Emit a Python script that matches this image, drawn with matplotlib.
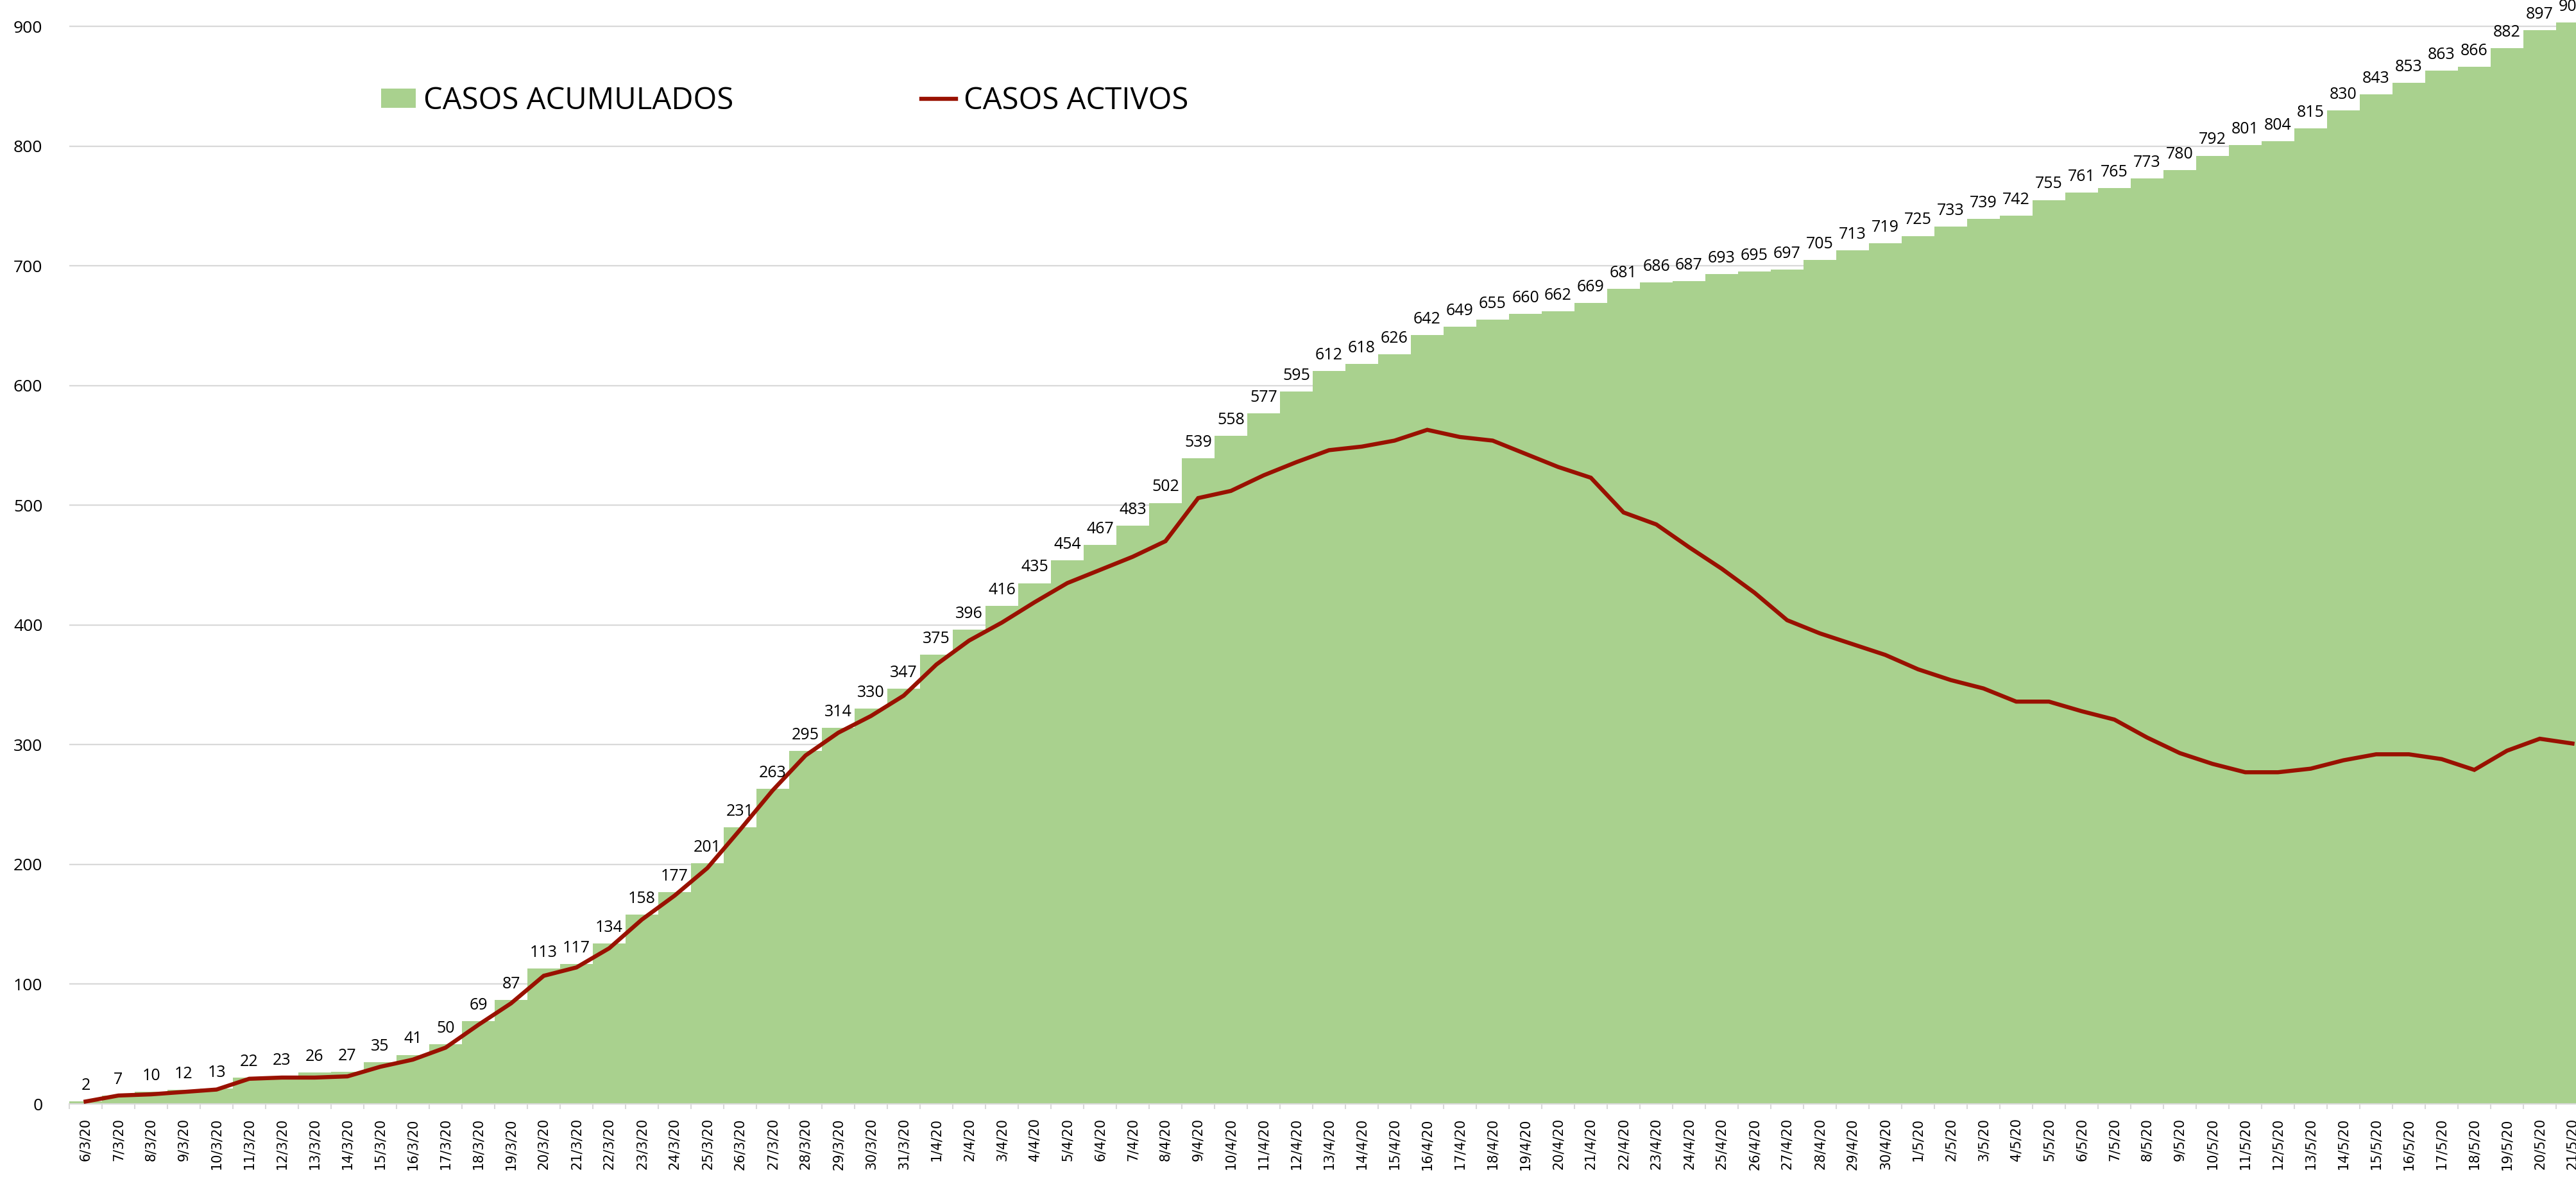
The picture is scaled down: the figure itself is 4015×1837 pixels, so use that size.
import numpy as np
import matplotlib
matplotlib.use("Agg")
import matplotlib.pyplot as plt
from matplotlib.patches import Patch
from matplotlib.lines import Line2D

# Dates (day/month/20)
dates = ([f"{d}/3/20" for d in range(6, 32)]
         + [f"{d}/4/20" for d in range(1, 31)]
         + [f"{d}/5/20" for d in range(1, 22)])

# Cumulative cases (bars)
casos_acumulados = [
    2, 7, 10, 12, 13, 22, 23, 26, 27, 35,
    41, 50, 69, 87, 113, 117, 134, 158, 177, 201,
    231, 263, 295, 314, 330, 347, 375, 396, 416, 435,
    454, 467, 483, 502, 539, 558, 577, 595, 612, 618,
    626, 642, 649, 655, 660, 662, 669, 681, 686, 687,
    693, 695, 697, 705, 713, 719, 725, 733, 739, 742,
    755, 761, 765, 773, 780, 792, 801, 804, 815, 830,
    843, 853, 863, 866, 882, 897, 903,
]

# Active cases (line)
casos_activos = [
    2, 7, 8, 10, 12, 21, 22, 22, 23, 31,
    37, 47, 66, 84, 107, 114, 130, 154, 174, 197,
    229, 262, 291, 310, 324, 341, 367, 387, 402, 419,
    435, 446, 457, 470, 506, 512, 525, 536, 546, 549,
    554, 563, 557, 554, 543, 532, 523, 494, 484, 465,
    447, 427, 404, 393, 384, 375, 363, 354, 347, 336,
    336, 328, 321, 306, 293, 284, 277, 277, 280, 287,
    292, 292, 288, 279, 295, 305, 301,
]

GREEN = "#A9D18E"
RED = "#991100"
GRID = "#D9D9D9"


def create_chart():
    plt.rcParams['font.family'] = ['Open Sans', 'DejaVu Sans']

    fig = plt.figure(figsize=(40.15, 18.37), dpi=100)
    ax = fig.add_axes([108 / 4015, 117 / 1837, 3927 / 4015, 1720 / 1837])

    x = np.arange(len(dates))

    # Bars + line
    ax.bar(x, casos_acumulados, width=1.0, color=GREEN, zorder=2)
    ax.plot(x, casos_activos, color=RED, lw=4.6, zorder=3,
            solid_joinstyle='miter')

    # Data labels above bars
    for xi, v in zip(x, casos_acumulados):
        ax.annotate(str(v), (xi, v), xytext=(0, 13), textcoords='offset points',
                    ha='center', va='baseline', fontsize=18, color='black',
                    zorder=4, annotation_clip=False)

    ax.set_xlim(-0.5, len(dates) - 0.5)
    ax.set_ylim(0, 922)

    # Y axis
    ax.set_yticks(range(0, 1000, 100))
    ax.tick_params(axis='y', length=0, pad=30, labelsize=19)
    ax.yaxis.grid(True, color=GRID, lw=1.6, zorder=0)
    ax.set_axisbelow(True)

    # X axis: tick marks between categories, labels at centres
    ax.set_xticks(np.arange(-0.5, len(dates), 1.0))
    ax.set_xticklabels([])
    ax.tick_params(axis='x', which='major', length=6, width=1.5, color=GRID)
    ax.set_xticks(x, minor=True)
    ax.set_xticklabels(dates, minor=True, rotation=90, fontsize=15,
                       family='DejaVu Sans')
    ax.tick_params(axis='x', which='minor', length=0, pad=16)

    for side in ['top', 'right', 'left']:
        ax.spines[side].set_visible(False)
    ax.spines['bottom'].set_color(GRID)
    ax.spines['bottom'].set_linewidth(1.6)

    # Legend
    handles = [Patch(facecolor=GREEN, edgecolor='none'),
               Line2D([], [], color=RED, lw=4.6)]
    fig.legend(handles, ["CASOS ACUMULADOS", "CASOS ACTIVOS"],
               loc='center left', bbox_to_anchor=(594 / 4015, 1 - 157 / 1837),
               ncol=2, frameon=False, fontsize=34, handlelength=1.15,
               handleheight=0.6, handletextpad=0.25, columnspacing=6.2,
               borderpad=0, borderaxespad=0)

    fig.savefig("out.png", dpi=100)


if __name__ == "__main__":
    create_chart()
